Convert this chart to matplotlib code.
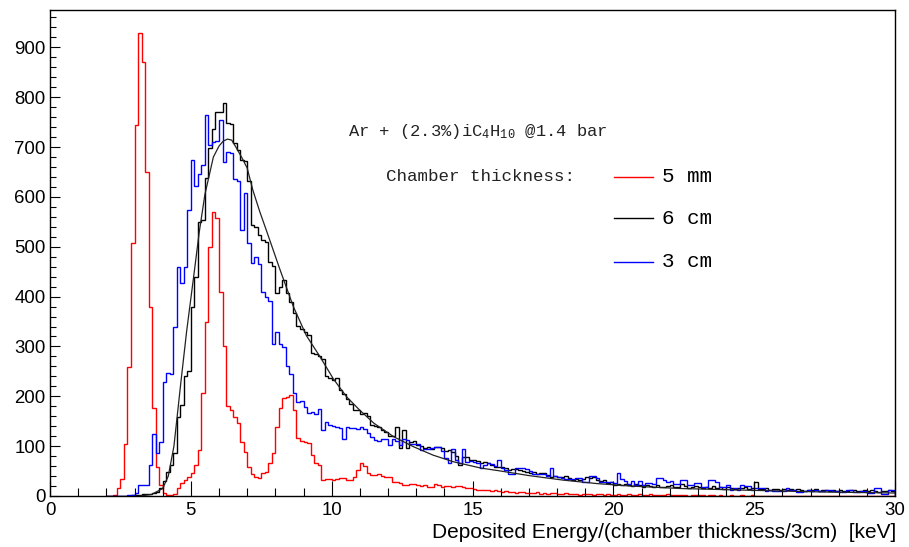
import numpy as np
import matplotlib.pyplot as plt
from matplotlib.lines import Line2D
from matplotlib.ticker import MultipleLocator

# histogramas: bins de 0.125 keV a partir de 2.0 keV (8 bins por linha = 1 keV)
BIN_START = 2.0
BIN_WIDTH = 0.125

red_5mm = [
    0, 0, 3, 16, 34, 104, 259, 508,
    745, 928, 870, 651, 380, 177, 59, 22,
    6, 3, 3, 5, 16, 26, 32, 38,
    46, 62, 92, 207, 349, 500, 569, 558,
    410, 300, 181, 172, 159, 146, 109, 88,
    58, 44, 39, 37, 46, 48, 66, 86,
    139, 177, 197, 199, 203, 173, 116, 110,
    108, 106, 82, 66, 62, 33, 34, 35,
    33, 35, 36, 36, 32, 33, 38, 52,
    66, 60, 46, 43, 43, 44, 41, 38,
    38, 28, 28, 27, 22, 22, 25, 24,
    22, 20, 22, 19, 18, 24, 22, 18,
    20, 21, 19, 20, 21, 18, 16, 16,
    14, 12, 13, 12, 12, 11, 12, 10,
    9, 10, 8, 8, 7, 8, 9, 7,
    6, 7, 8, 5, 6, 5, 6, 7,
    5, 4, 6, 5, 4, 5, 3, 5,
    4, 5, 3, 4, 5, 3, 4, 3,
    3, 4, 2, 3, 4, 2, 3, 4,
    3, 2, 4, 3, 2, 3, 2, 4,
    3, 2, 2, 3, 2, 1, 3, 2,
    2, 3, 1, 2, 2, 1, 2, 1,
    1, 2, 1, 1, 2, 1, 1, 2,
    1, 1, 0, 1, 1, 0, 1, 1,
    0, 1, 0, 1, 0, 0, 1, 0,
    0, 0, 1, 0, 0, 1, 0, 0,
    0, 0, 0, 1, 0, 0, 0, 0,
    0, 0, 0, 0, 0, 0, 0, 0,
]

black_6cm = [
    0, 0, 0, 0, 0, 0, 1, 2,
    3, 3, 4, 5, 5, 7, 8, 16,
    30, 49, 62, 86, 159, 183, 240, 250,
    380, 440, 550, 554, 638, 699, 737, 770,
    770, 788, 748, 746, 709, 695, 675, 672,
    631, 544, 540, 524, 514, 510, 470, 462,
    407, 420, 434, 407, 390, 367, 341, 335,
    330, 323, 287, 285, 280, 275, 240, 236,
    232, 236, 213, 205, 195, 185, 172, 172,
    165, 166, 160, 143, 140, 138, 133, 129,
    120, 121, 139, 96, 133, 96, 109, 111,
    102, 100, 96, 98, 94, 98, 98, 96,
    90, 92, 88, 80, 62, 79, 79, 72,
    72, 70, 66, 68, 66, 62, 59, 58,
    59, 56, 52, 55, 54, 52, 50, 48,
    46, 48, 44, 46, 46, 42, 39, 40,
    39, 38, 40, 36, 32, 35, 32, 34,
    39, 36, 39, 32, 30, 32, 26, 28,
    22, 24, 22, 25, 22, 20, 24, 22,
    19, 22, 20, 19, 22, 18, 19, 21,
    22, 18, 19, 24, 20, 17, 18, 20,
    19, 16, 18, 17, 21, 16, 18, 15,
    18, 16, 15, 17, 16, 18, 14, 17,
    29, 15, 14, 16, 13, 15, 14, 12,
    14, 13, 15, 12, 14, 13, 11, 13,
    12, 14, 11, 13, 12, 10, 13, 11,
    12, 11, 10, 12, 13, 10, 11, 12,
    10, 12, 11, 9, 10, 11, 12, 10,
]

blue_3cm = [
    0, 0, 0, 0, 0, 0, 2, 3,
    7, 22, 22, 22, 62, 125, 86, 108,
    229, 246, 244, 340, 460, 428, 460, 574,
    675, 621, 646, 665, 765, 705, 711, 712,
    755, 671, 691, 688, 635, 632, 534, 608,
    508, 468, 480, 466, 410, 400, 392, 305,
    330, 304, 298, 261, 245, 207, 189, 190,
    178, 166, 168, 164, 175, 133, 148, 142,
    141, 138, 136, 114, 138, 137, 136, 134,
    138, 134, 126, 118, 112, 110, 115, 114,
    102, 114, 110, 102, 114, 113, 104, 104,
    104, 92, 94, 94, 96, 98, 98, 90,
    76, 66, 94, 72, 66, 94, 68, 70,
    68, 66, 56, 62, 66, 64, 60, 72,
    56, 52, 44, 44, 56, 56, 56, 54,
    50, 44, 44, 44, 45, 40, 56, 40,
    38, 36, 34, 34, 34, 36, 36, 28,
    28, 40, 40, 36, 28, 28, 28, 28,
    26, 46, 34, 30, 24, 30, 22, 30,
    22, 26, 26, 24, 36, 36, 32, 28,
    31, 25, 25, 32, 32, 23, 22, 26,
    26, 18, 18, 32, 32, 28, 19, 19,
    22, 13, 17, 12, 22, 20, 20, 12,
    17, 17, 17, 11, 13, 11, 11, 11,
    11, 17, 13, 13, 8, 8, 11, 13,
    11, 13, 11, 11, 13, 13, 11, 11,
    8, 8, 12, 12, 8, 8, 11, 11,
    7, 7, 17, 17, 5, 5, 12, 12,
]

# curva de ajuste
fit_e = [3.2, 3.6, 4.0, 4.2, 4.4, 4.65, 4.85, 5.1, 5.3, 5.5, 5.8, 6.0, 6.15,
         6.3, 6.45, 6.6, 6.8, 7.0, 7.2, 7.45, 7.7, 8.16, 8.64, 9.1, 9.58,
         10.06, 10.53, 11.0, 11.5, 12.2, 12.9, 13.6, 14.3, 15.3, 15.9, 17.0,
         18.2, 19.4, 20.6, 22.4, 25.2, 27.5, 30.0]
fit_y = [0, 3, 15, 40, 100, 230, 330, 440, 530, 605, 680, 702, 712,
         716, 714, 700, 680, 658, 614, 570, 530, 455, 380, 322, 280,
         235, 199, 172, 146, 119, 99, 82, 69, 56, 51, 41,
         32, 25, 20, 15, 11, 8, 6]

W, H = 909, 547
SANS = "Liberation Sans"
MONO = "Liberation Mono"
plt.rcParams["mathtext.fontset"] = "custom"
plt.rcParams["mathtext.rm"] = MONO
plt.rcParams["mathtext.default"] = "rm"


def bordas(valores):
    return BIN_START + BIN_WIDTH * np.arange(len(valores) + 1)


fig = plt.figure(figsize=(W / 100, H / 100), dpi=100)
ax = fig.add_axes([50 / W, 51 / H, 845 / W, 486 / H])

ax.stairs(red_5mm, bordas(red_5mm), color="#ff0000", lw=1.0)
ax.stairs(black_6cm, bordas(black_6cm), color="black", lw=1.0)
ax.stairs(blue_3cm, bordas(blue_3cm), color="#0000ff", lw=1.0)
ax.plot(fit_e, fit_y, color="#222222", lw=0.9)

ax.set_xlim(0, 30)
ax.set_ylim(0, 975)
ax.xaxis.set_major_locator(MultipleLocator(5))
ax.xaxis.set_minor_locator(MultipleLocator(1))
ax.yaxis.set_major_locator(MultipleLocator(100))
ax.yaxis.set_minor_locator(MultipleLocator(20))
ax.tick_params(axis="x", which="major", direction="in", length=10.5, width=0.8, pad=4)
ax.tick_params(axis="x", which="minor", direction="in", length=5.5, width=0.8)
ax.tick_params(axis="y", which="major", direction="in", length=7, width=0.8, pad=3)
ax.tick_params(axis="y", which="minor", direction="in", length=4, width=0.8)
for lab in ax.get_xticklabels() + ax.get_yticklabels():
    lab.set_fontfamily(SANS)
    lab.set_fontsize(13.4)
for s in ax.spines.values():
    s.set_linewidth(1.0)

fig.text(896 / W, 1 - 533 / H, "Deposited Energy/(chamber thickness/3cm)  [keV]",
         ha="right", va="center", fontsize=15, family=SANS)

fig.text(348 / W, 1 - 131.7 / H, r"Ar + (2.3%)iC$_4$H$_{10}$ @1.4 bar",
         ha="left", va="center", fontsize=12.3, family=MONO, color="#222222")
fig.text(386 / W, 1 - 176.7 / H, "Chamber thickness:",
         ha="left", va="center", fontsize=12.6, family=MONO, color="#222222")

legenda = [("#ff0000", "5 mm", 176.7), ("black", "6 cm", 218.0), ("#0000ff", "3 cm", 261.7)]
for cor, texto, ypx in legenda:
    y = 1 - ypx / H
    fig.add_artist(Line2D([614 / W, 653 / W], [y, y], color=cor, lw=1.0))
    fig.text(662 / W, y, texto, ha="left", va="center", fontsize=15, family=MONO)

fig.savefig("out.png", dpi=100)
